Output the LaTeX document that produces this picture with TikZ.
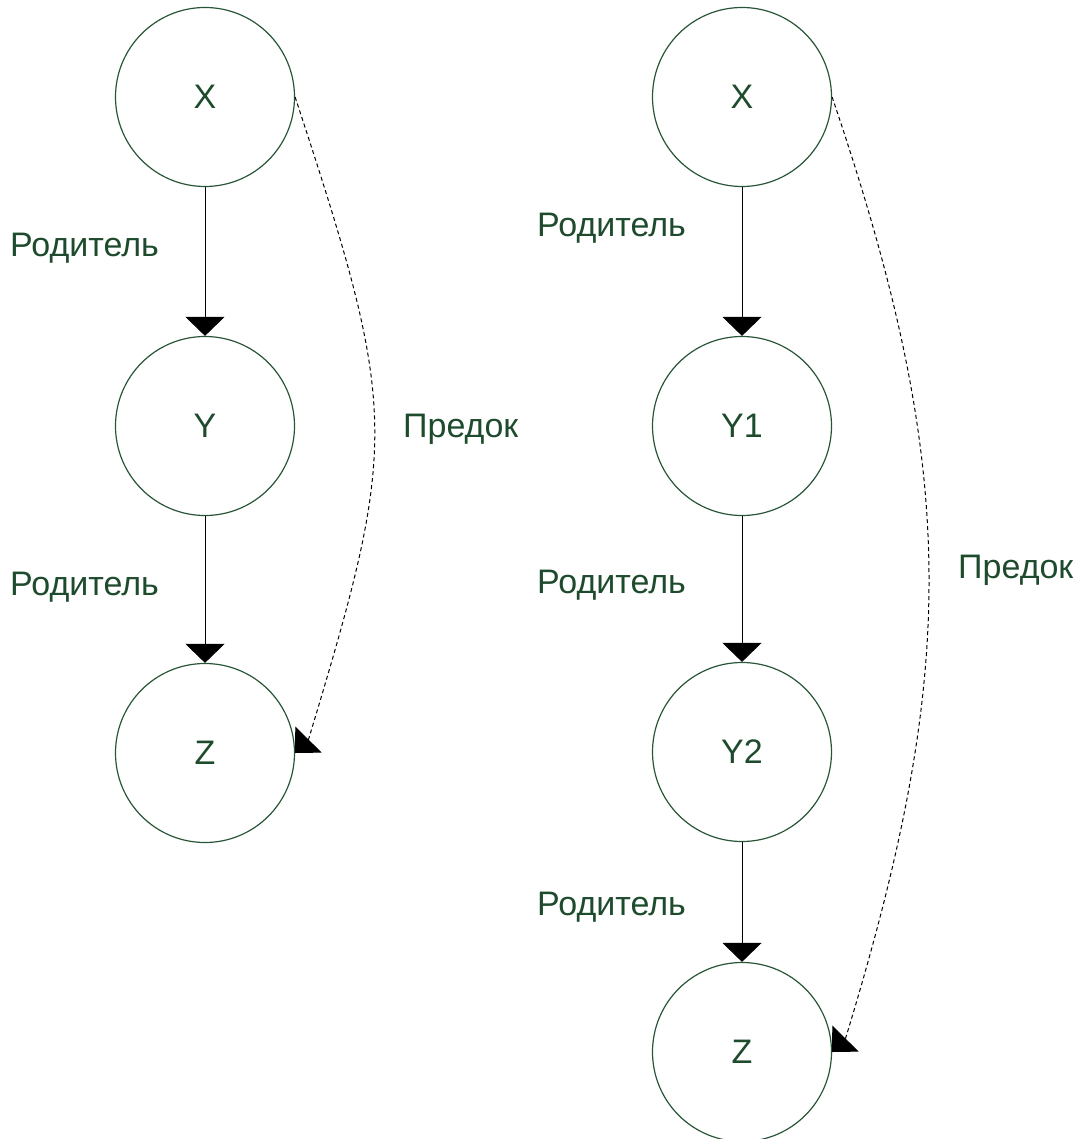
\documentclass[tikz,border=0pt]{standalone}
\usepackage{fontspec}
\setmainfont{Liberation Sans}
\usetikzlibrary{arrows.meta}
\definecolor{lblgreen}{RGB}{30,75,45}
\definecolor{ringgreen}{RGB}{40,85,55}
\tikzset{
  vnode/.style={circle,draw=ringgreen,line width=1.2pt,minimum size=179pt,inner sep=0pt,
    text=lblgreen,font=\fontsize{34}{40}\selectfont},
  lbl/.style={anchor=base west,inner sep=0pt,text=lblgreen,font=\fontsize{34}{40}\selectfont},
  parent/.style={draw=black,line width=1pt,-{Triangle[length=19pt,width=39pt]}},
  ancestor/.style={draw=black,line width=1pt,dash pattern=on 4pt off 3pt,-{Triangle[length=19pt,width=37pt]}}
}
\begin{document}
\begin{tikzpicture}[x=1pt,y=-1pt]
\useasboundingbox (0,0) rectangle (1076,1139);
% left diagram
\node[vnode] (lX) at (205,97) {X};
\node[vnode] (lY) at (205,426) {Y};
\node[vnode] (lZ) at (205,753) {Z};
\draw[parent] (lX.south) -- (lY.north);
\draw[parent] (lY.south) -- (lZ.north);
\coordinate (lzt) at (308.5,739.5);
\draw[ancestor] (lX.east) .. controls (399,413) and (399,440) .. (lzt) -- (lZ.east);
\node[lbl] (lp1) at (10,257) {Родитель};
\node[lbl] (lp2) at (10,595) {Родитель};
\node[lbl] (la) at (403,437) {Предок};
% right diagram
\node[vnode] (rX) at (742,97) {X};
\node[vnode] (rY1) at (742,426) {Y1};
\node[vnode] (rY2) at (742,752) {Y2};
\node[vnode] (rZ) at (742,1052) {Z};
\draw[parent] (rX.south) -- (rY1.north);
\draw[parent] (rY1.south) -- (rY2.north);
\draw[parent] (rY2.south) -- (rZ.north);
\coordinate (rzt) at (845.5,1038.5);
\draw[ancestor] (rX.east) .. controls (959,471) and (959,667) .. (rzt) -- (rZ.east);
\node[lbl] (rp1) at (537,237) {Родитель};
\node[lbl] (rp2) at (537,593) {Родитель};
\node[lbl] (rp3) at (537,915) {Родитель};
\node[lbl] (ra) at (958,578) {Предок};
\end{tikzpicture}
\end{document}
